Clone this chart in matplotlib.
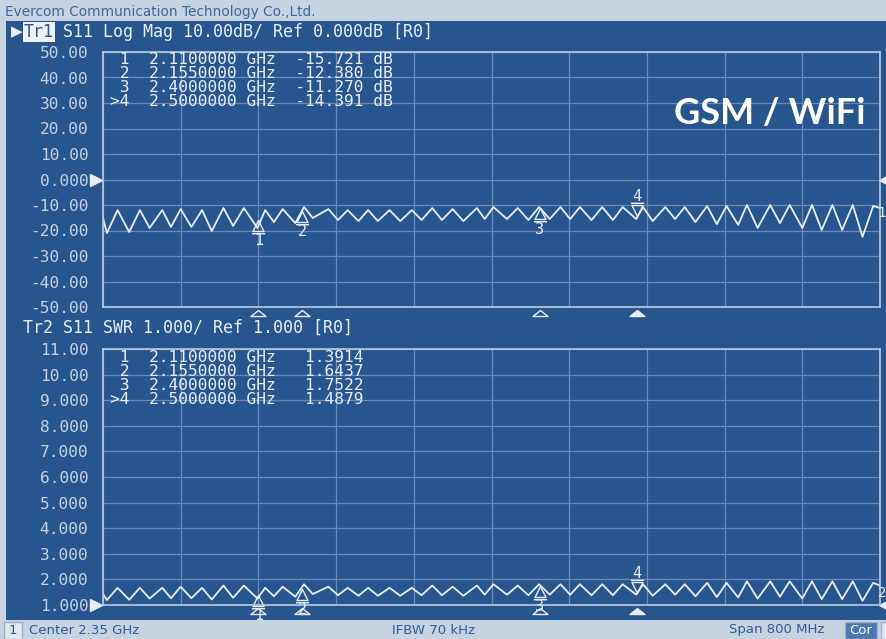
import numpy as np
import matplotlib.pyplot as plt
from matplotlib.patches import Rectangle
from matplotlib.path import Path

# S11 sweep 1.95 - 2.75 GHz
freq_ghz = [1.950, 1.954, 1.965, 1.977, 1.988, 1.998, 2.011, 2.020, 2.030, 2.041,
            2.052, 2.062, 2.074, 2.084, 2.095, 2.109, 2.117, 2.126, 2.135, 2.148,
            2.157, 2.166, 2.182, 2.192, 2.202, 2.213, 2.223, 2.233, 2.245, 2.256,
            2.268, 2.278, 2.289, 2.299, 2.310, 2.321, 2.335, 2.343, 2.352, 2.366,
            2.377, 2.388, 2.399, 2.410, 2.421, 2.431, 2.441, 2.453, 2.464, 2.475,
            2.485, 2.499, 2.506, 2.516, 2.529, 2.539, 2.549, 2.560, 2.572, 2.582,
            2.592, 2.604, 2.613, 2.624, 2.637, 2.647, 2.657, 2.670, 2.680, 2.690,
            2.701, 2.711, 2.722, 2.732, 2.743, 2.750]
s11_db = [-15.1, -21.0, -12.0, -20.6, -12.0, -19.0, -12.0, -18.6, -11.6, -18.6,
          -12.0, -20.2, -11.2, -18.2, -11.2, -19.0, -12.0, -16.7, -11.6, -17.1,
          -10.8, -15.1, -11.6, -15.9, -12.0, -16.3, -12.0, -16.3, -12.0, -16.3,
          -12.0, -15.9, -11.2, -15.9, -11.6, -16.3, -11.2, -15.5, -10.8, -15.5,
          -11.2, -15.9, -10.8, -15.5, -10.8, -15.5, -10.8, -15.9, -10.8, -15.9,
          -10.8, -15.5, -10.8, -16.3, -10.8, -15.5, -10.8, -16.7, -10.4, -17.5,
          -10.4, -17.8, -10.0, -19.0, -10.0, -17.1, -10.0, -19.0, -10.0, -19.8,
          -10.0, -19.8, -10.0, -22.5, -10.4, -11.2]

marker_names = [' 1', ' 2', ' 3', '>4']
marker_ghz = [2.110, 2.155, 2.400, 2.500]
marker_db = [-15.721, -12.380, -11.270, -14.391]
marker_swr = [1.3914, 1.6437, 1.7522, 1.4879]

db_ticks = [50, 40, 30, 20, 10, 0, -10, -20, -30, -40, -50]
db_labels = ['50.00', '40.00', '30.00', '20.00', '10.00', '0.000',
             '-10.00', '-20.00', '-30.00', '-40.00', '-50.00']
swr_ticks = [11, 10, 9, 8, 7, 6, 5, 4, 3, 2, 1]
swr_labels = ['11.00', '10.00', '9.000', '8.000', '7.000', '6.000',
              '5.000', '4.000', '3.000', '2.000', '1.000']

BLUE = '#27568f'
BAR = '#c6d3e2'
GRID = '#6a8bba'
EDGE = '#bccbe0'
INK = '#c6d2e2'
TRACE = '#e8eef6'
DARK = '#2d5b92'
MONO = 'DejaVu Sans Mono'
SANS = 'DejaVu Sans'

W, H = 887, 639
plt.rcParams['font.family'] = MONO

# SWR trace is the same sweep, converted from |S11|
gamma = 10 ** (np.array(s11_db) / 20)
swr = (1 + gamma) / (1 - gamma)


def rect(x0, y0, x1, y1):
    """pixel box, origin top-left -> figure fraction [l, b, w, h]"""
    return [x0 / W, 1 - y1 / H, (x1 - x0) / W, (y1 - y0) / H]


def ftext(x, y, s, **kw):
    kw.setdefault('va', 'center')
    return fig.text(x / W, 1 - y / H, s, **kw)


def fbox(x0, y0, x1, y1, **kw):
    l, b, w, h = rect(x0, y0, x1, y1)
    fig.add_artist(Rectangle((l, b), w, h, transform=fig.transFigure, **kw))


# marker glyphs, tip sits on the origin
up_tri = Path([(0, 0), (-0.5, -1), (0.5, -1), (0, 0), (-0.6, -1.2), (0.6, -1.2)],
              [Path.MOVETO, Path.LINETO, Path.LINETO, Path.CLOSEPOLY, Path.MOVETO, Path.LINETO])
dn_tri = Path([(0, 0), (-0.5, 1), (0.5, 1), (0, 0), (-0.6, 1.2), (0.6, 1.2)],
              [Path.MOVETO, Path.LINETO, Path.LINETO, Path.CLOSEPOLY, Path.MOVETO, Path.LINETO])
flat_tri = Path([(0, 0.4), (-1, -0.4), (1, -0.4), (0, 0.4)],
                [Path.MOVETO, Path.LINETO, Path.LINETO, Path.CLOSEPOLY])

fig = plt.figure(figsize=(W / 100, H / 100), dpi=100, facecolor=BAR)
fbox(6, 21, 887, 620, facecolor=BLUE, edgecolor='none', zorder=0)


def setup(ax, ticks, labels, ylim, ref):
    ax.set_facecolor('none')
    ax.set_xticks(np.linspace(1.95, 2.75, 11))
    ax.set_yticks(ticks, labels)
    ax.tick_params(axis='x', length=0, labelbottom=False)
    ax.tick_params(axis='y', length=0, pad=10.5, labelcolor=INK, labelsize=11.6)
    ax.grid(True, color=GRID, lw=0.9)
    ax.set_axisbelow(True)
    for s in ax.spines.values():
        s.set_color(EDGE)
        s.set_linewidth(1.2)
    # reference level arrows
    ax.plot(-0.009, ref, transform=ax.get_yaxis_transform(), marker='>', ms=9,
            color=TRACE, clip_on=False)
    ax.plot(1.006, ref, transform=ax.get_yaxis_transform(), marker='<', ms=9,
            color=TRACE, clip_on=False)
    # marker stubs under the grid
    for i, f in enumerate(marker_ghz):
        ax.plot(f, -0.024, transform=ax.get_xaxis_transform(), marker=flat_tri, ms=10.8,
                mfc=TRACE if i == 3 else 'none', mec=TRACE, mew=1, clip_on=False)
    ax.set_xlim(1.95, 2.75)
    ax.set_ylim(*ylim)


def draw_markers(ax, vals):
    for i, (f, v) in enumerate(zip(marker_ghz, vals)):
        label = marker_names[i].strip(' >')
        if i == 3:
            ax.plot(f, v, marker=dn_tri, ms=19, mfc='none', mec=TRACE, mew=1, clip_on=False)
            ax.annotate(label, (f, v), xytext=(0, 14), textcoords='offset points',
                        ha='center', va='center', color=TRACE, fontsize=11)
        else:
            ax.plot(f, v, marker=up_tri, ms=19, mfc='none', mec=TRACE, mew=1, clip_on=False)
            ax.annotate(label, (f, v), xytext=(0, -15), textcoords='offset points',
                        ha='center', va='center', color=TRACE, fontsize=11)


# ---- Tr1 : log mag
ax1 = fig.add_axes(rect(103, 52, 880, 307))
setup(ax1, db_ticks, db_labels, (-50, 50), 0)
ax1.plot(freq_ghz, s11_db, color=TRACE, lw=1.3)
draw_markers(ax1, marker_db)

# ---- Tr2 : SWR
ax2 = fig.add_axes(rect(103, 349, 880, 605))
setup(ax2, swr_ticks, swr_labels, (1, 11), 1)
ax2.plot(freq_ghz, swr, color=TRACE, lw=1.3)
draw_markers(ax2, marker_swr)

# marker tables
for i in range(4):
    ftext(110, 59.5 + 14 * i,
          f"{marker_names[i]}  {marker_ghz[i]:.7f} GHz {marker_db[i]:8.3f} dB",
          color=TRACE, fontsize=11.7)
    ftext(110, 357 + 14 * i,
          f"{marker_names[i]}  {marker_ghz[i]:.7f} GHz {marker_swr[i]:8.4f}",
          color=TRACE, fontsize=11.7)

# trace headers
ftext(11, 32, '\u25b6', color=TRACE, fontsize=11, family=SANS)
ftext(24, 32, 'Tr1', color=BLUE, fontsize=12,
      bbox=dict(boxstyle='square,pad=0.08', fc='#eef2f8', ec='none'))
ftext(63, 32, 'S11 Log Mag 10.00dB/ Ref 0.000dB [R0]', color=TRACE, fontsize=12)
ftext(23, 328, 'Tr2 S11 SWR 1.000/ Ref 1.000 [R0]', color=TRACE, fontsize=12)
ftext(886, 213, '1', ha='right', color=TRACE, fontsize=10)
ftext(886, 593, '2', ha='right', color=TRACE, fontsize=10)

ftext(866, 113, 'GSM / WiFi', ha='right', color='white', fontsize=26,
      family='Lato', weight='bold')

# title and status bars
ftext(5, 12, 'Evercom Communication Technology Co.,Ltd.', color='#3c6898',
      fontsize=9.8, family=SANS)
fbox(4, 622, 22, 639, facecolor='#e2e8f0', edgecolor='#9fb1c8', lw=1)
ftext(13, 630, '1', ha='center', color=DARK, fontsize=9.5, family=SANS)
ftext(29, 630, 'Center 2.35 GHz', color=DARK, fontsize=9.5, family=SANS)
ftext(392, 630, 'IFBW 70 kHz', color=DARK, fontsize=9.5, family=SANS)
ftext(729, 630, 'Span 800 MHz', color=DARK, fontsize=9.5, family=SANS)
fbox(845, 622, 877, 639, facecolor='#4a78ae', edgecolor='#9fb1c8', lw=1)
ftext(861, 630, 'Cor', ha='center', color='white', fontsize=9.5, family=SANS)
fbox(881, 622, 890, 639, facecolor='#e2e8f0', edgecolor='#9fb1c8', lw=1)

fig.savefig('out.png', dpi=100, facecolor=fig.get_facecolor())
